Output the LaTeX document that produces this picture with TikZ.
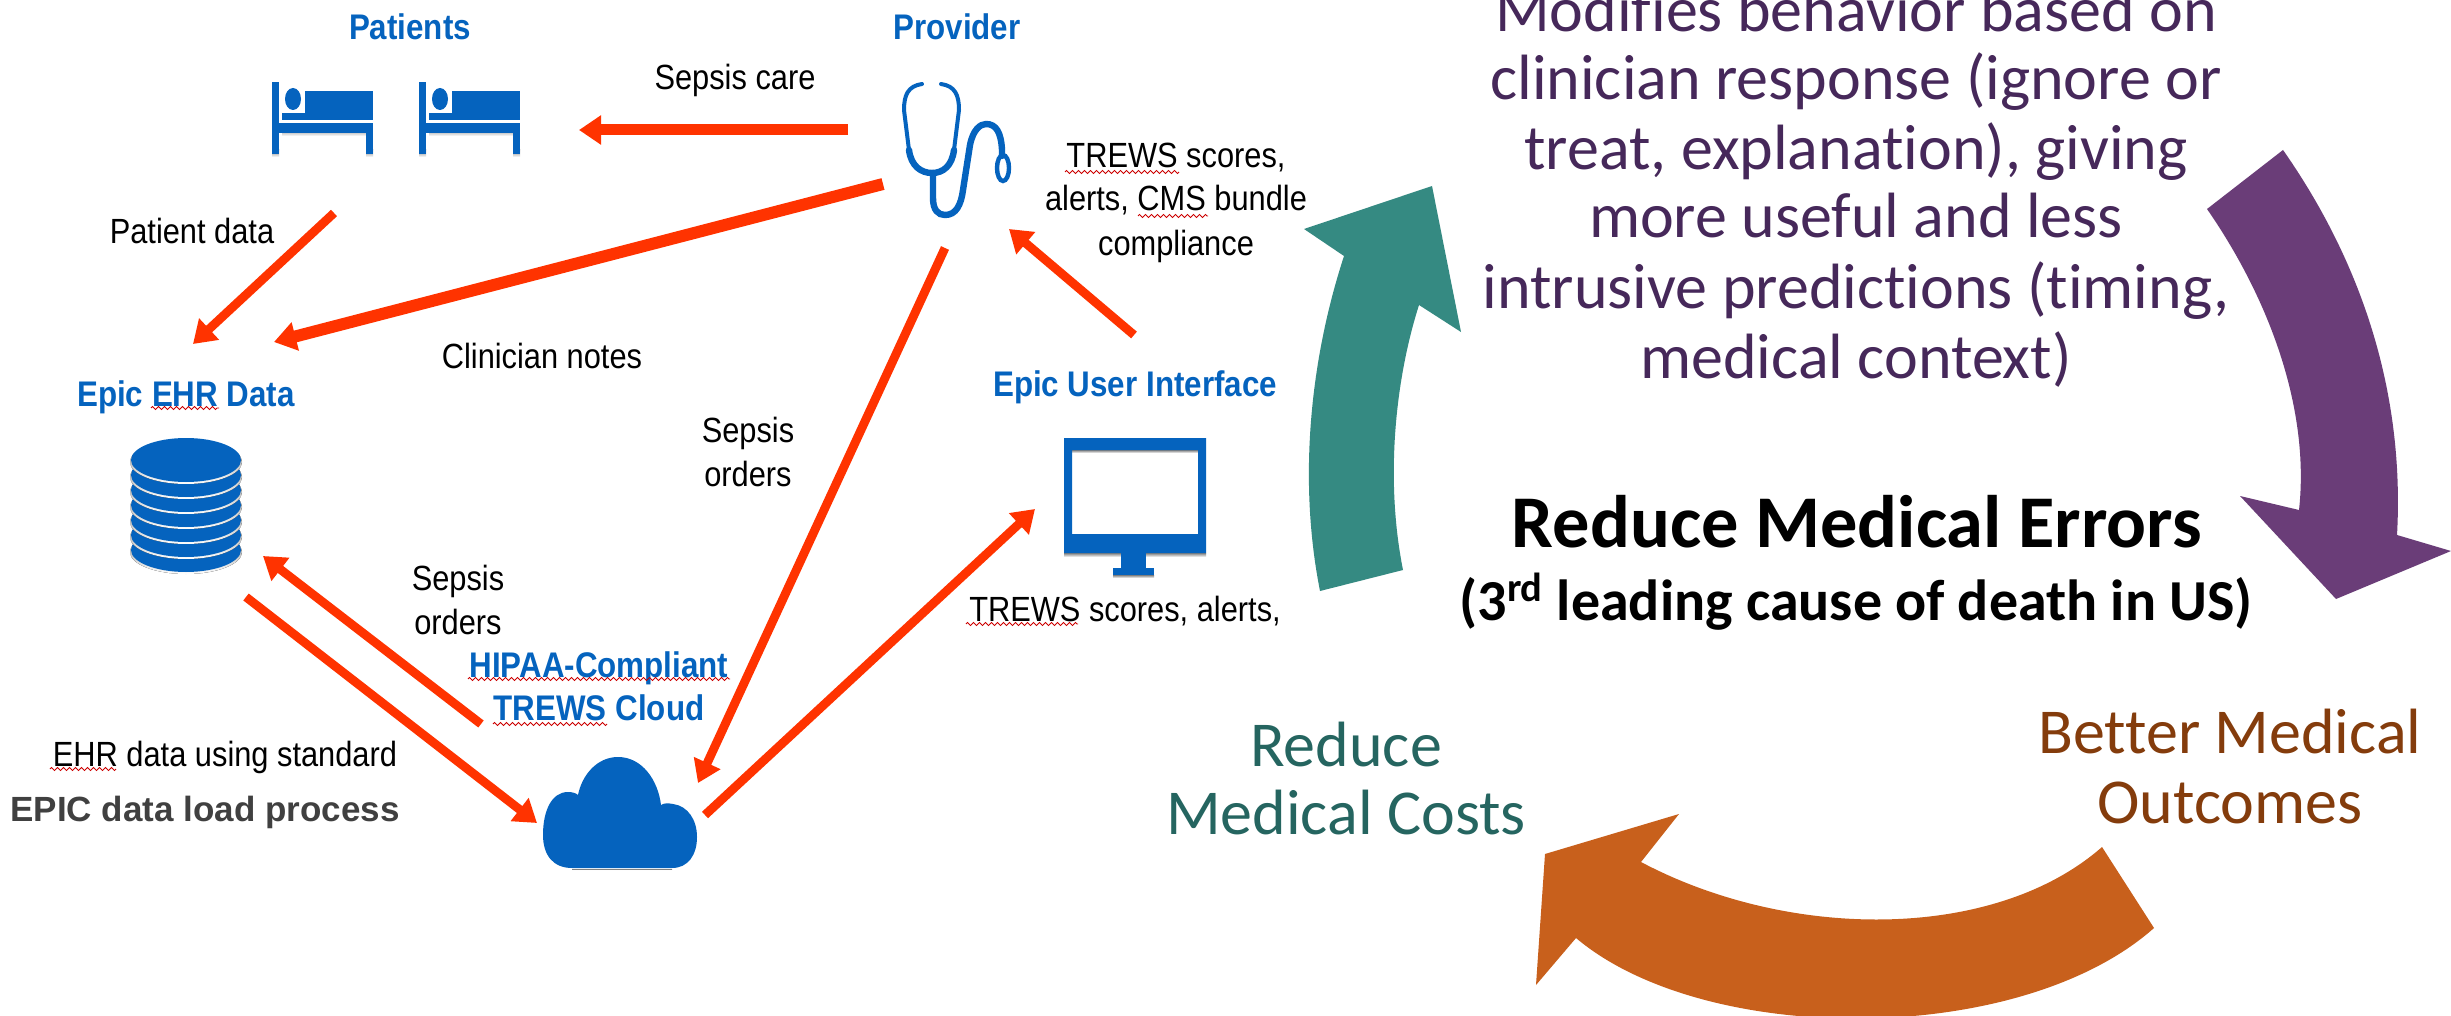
\documentclass[tikz,border=0pt]{standalone}
\usepackage{fontspec}
\usetikzlibrary{arrows.meta,decorations.pathmorphing}
\setmainfont[Ligatures=NoCommon]{Carlito}
\newfontfamily\lab[FakeStretch=0.88]{Liberation Sans}
\newfontfamily\labwide{Liberation Sans}
\definecolor{iconblue}{HTML}{0563BE}
\definecolor{arrowred}{HTML}{FF3300}
\definecolor{tealfill}{HTML}{358A82}
\definecolor{purplefill}{HTML}{6A3D78}
\definecolor{orangefill}{HTML}{C8601C}
\definecolor{purpletext}{HTML}{46285A}
\definecolor{tealtext}{HTML}{256560}
\definecolor{browntext}{HTML}{843C0C}
\definecolor{shade}{HTML}{808080}
\tikzset{
  x=0.5pt,y=-0.5pt,
  blk/.style={anchor=base,inner sep=0,font=\lab\fontsize{17.5}{20}\selectfont,text=black},
  blu/.style={anchor=base,inner sep=0,font=\lab\bfseries\fontsize{17.8}{20}\selectfont,text=iconblue},
  body/.style={anchor=base,inner sep=0,font=\fontsize{32}{38}\selectfont,text=purpletext},
  flow/.style={draw=arrowred,line width=#1,-{Triangle[width=14pt,length=11pt]}},
  squig/.style={draw=red!80!black,line width=0.4pt,decorate,decoration={zigzag,segment length=3pt,amplitude=0.8pt}},
  icon/.style={fill=iconblue,draw=none},
}
\newcommand{\bedicon}[1]{%
  \begin{scope}[xshift=#1*0.5pt]
    \fill[shade] (282,128) rectangle (366,136);
    \fill[shade] (272,150) rectangle (279,157);
    \fill[shade] (366,150) rectangle (373,157);
    \fill[icon] (272,82) rectangle (279,154);
    \fill[icon] (366,123) rectangle (373,154);
    \fill[icon] (279,123) rectangle (373,133);
    \fill[icon] (282,113) rectangle (373,120);
    \fill[icon] (305,91) rectangle (373,113);
    \fill[icon] (293,99) ellipse [x radius=8,y radius=11];
  \end{scope}}
\begin{document}
\begin{tikzpicture}
\clip (0,0) rectangle (2451,1016);
\fill[white] (0,0) rectangle (2451,1016);

% --- left: labels
\node[blu] (patients) at (410,40) {Patients};
\node[blu] (provider) at (957,40) {Provider};
\node[blk] (sepsiscare) at (735,90) {Sepsis care};
\node[blk] (trews1) at (1176,168) {TREWS scores,};
\node[blk] (trews2) at (1176,211) {alerts, CMS bundle};
\node[blk] (trews3) at (1176,256) {compliance};
\node[blk] (patientdata) at (192,244) {Patient data};
\node[blk] (notes) at (542,368) {Clinician notes};
\node[blu] (ehrlabel) at (186,406) {Epic EHR Data};
\node[blu] (uilabel) at (1135,396) {Epic User Interface};
\node[blk] (orders1a) at (748,442) {Sepsis};
\node[blk] (orders1b) at (748,486) {orders};
\node[blk] (orders2a) at (458,590) {Sepsis};
\node[blk] (orders2b) at (458,634) {orders};
\node[blu] (hipaa) at (599,677) {HIPAA-Compliant};
\node[blu] (cloudlabel) at (599,720) {TREWS Cloud};
\node[blk] (ehrload) at (225,766) {EHR data using standard};
\node[blk,font=\labwide\bfseries\fontsize{17.5}{20}\selectfont,text=black!75] (epicload) at (205,821) {EPIC data load process};
\node[blk] (uiscores) at (1125,621) {TREWS scores, alerts,};

% --- spell-check squiggles
\draw[squig] (1065,172) -- (1179,172);
\draw[squig] (1138,216) -- (1208,216);
\draw[squig] (151,408) -- (219,408);
\draw[squig] (468,679) -- (730,679);
\draw[squig] (493,724) -- (607,724);
\draw[squig] (50,769) -- (116,769);
\draw[squig] (966,624) -- (1078,624);

% --- icons
\bedicon{0}
\bedicon{147}

% stethoscope
\begin{scope}[draw=iconblue,line width=3.2pt,line cap=round,fill=none]
  \draw[line width=2pt] (922,84) .. controls (908,86) and (904,95) .. (904,110) -- (909,150);
  \draw[line width=2pt] (941,84) .. controls (955,86) and (959,95) .. (959,110) -- (954,150);
  \draw (909,150) .. controls (911,166) and (921,173) .. (932,173) .. controls (943,173) and (952,166) .. (954,150);
  \draw (933,173) -- (933,198) .. controls (933,210) and (938,215) .. (945,215) .. controls (956,215) and (961,205) .. (963,190)
     -- (970,145) .. controls (973,130) and (980,124) .. (986,124) .. controls (996,124) and (1001,132) .. (1002,150) -- (1002,156);
  \draw[line width=2.2pt] (1003,168) ellipse [x radius=6,y radius=13];
\end{scope}

% database
\foreach \i in {6,5,...,0} {
  \fill[shade] (186,462+15*\i) ellipse [x radius=56,y radius=22];
  \fill[icon] (186,460+15*\i) ellipse [x radius=55,y radius=22];
}

% monitor
\fill[shade] (1113,575) rectangle (1154,578);
\fill[shade] (1064,553) rectangle (1206,557);
\fill[shade] (1072,450) rectangle (1198,453);
\fill[icon,even odd rule] (1064,438) rectangle (1206,553) (1072,450) rectangle (1198,534);
\fill[icon] (1121,553) rectangle (1146,568);
\fill[icon] (1113,568) rectangle (1154,575);

% cloud
\fill[shade] (572,869) rectangle (672,870);
\fill[icon] (572,868) .. controls (553,868) and (543,855) .. (543,835)
  .. controls (543,810) and (552,792) .. (568,792)
  .. controls (572,792) and (576,793) .. (578,795)
  .. controls (582,775) and (597,757) .. (618,757)
  .. controls (642,757) and (658,780) .. (661,805)
  .. controls (664,803) and (668,803) .. (673,804)
  .. controls (688,806) and (697,820) .. (697,837)
  .. controls (697,855) and (688,868) .. (672,868) -- cycle;

% --- left: connector ends
\coordinate (provL) at (848,130);   \coordinate (bedsR) at (579,130);
\coordinate (provW) at (883,184);   \coordinate (ehrNE) at (274,342);
\coordinate (bedsS) at (334,213);   \coordinate (ehrN) at (193,344);
\coordinate (provS) at (945,248);   \coordinate (cloudNE) at (698,783);
\coordinate (uiN) at (1134,335);    \coordinate (provSE) at (1009,229);
\coordinate (cloudE) at (705,815);  \coordinate (uiW) at (1035,509);
\coordinate (cloudNW) at (481,724); \coordinate (dbSE) at (263,556);
\coordinate (dbS) at (246,597);     \coordinate (cloudW) at (537,823);

\draw[flow=5.5pt] (provL) -- (bedsR);
\draw[flow=6pt] (provW) -- (ehrNE);
\draw[flow=4.4pt] (bedsS) -- (ehrN);
\draw[flow=4.4pt] (provS) -- (cloudNE);
\draw[flow=4.4pt] (uiN) -- (provSE);
\draw[flow=4.4pt] (cloudE) -- (uiW);
\draw[flow=4.4pt] (cloudNW) -- (dbSE);
\draw[flow=4.4pt] (dbS) -- (cloudW);

% --- right: cycle arrows
\fill[tealfill] (1320,591) .. controls (1298,480) and (1310,360) .. (1344,256)
  -- (1304,229) -- (1432,186) -- (1461,332) -- (1419,305)
  .. controls (1395,380) and (1385,480) .. (1403,570) -- cycle;
\fill[purplefill] (2283,150) .. controls (2360,260) and (2405,390) .. (2397,535)
  -- (2451,551) -- (2336,599) -- (2240,496) -- (2299,510)
  .. controls (2310,410) and (2270,300) .. (2207,209) -- cycle;
\fill[orangefill] (2154,928) .. controls (2020,1047) and (1705,1047) .. (1576,938)
  -- (1536,985) -- (1545,854) -- (1679,814) -- (1641,862)
  .. controls (1790,941) and (1995,941) .. (2102,847) -- cycle;

% --- right: text
\node[body] (m1) at (1856,32) {Modifies behavior based on};
\node[body] (m2) at (1856,100) {clinician response (ignore or};
\node[body] (m3) at (1856,170) {treat, explanation), giving};
\node[body] (m4) at (1856,238) {more useful and less};
\node[body] (m5) at (1856,308) {intrusive predictions (timing,};
\node[body] (m6) at (1856,378) {medical context)};
\node[body,text=black,font=\bfseries\fontsize{37.2}{44}\selectfont] (err) at (1857,547) {Reduce Medical Errors};
\node[body,text=black,font=\bfseries\fontsize{29}{34}\selectfont] (err2) at (1856,620) {(3\textsuperscript{rd} leading cause of death in US)};
\node[body,text=tealtext] (cost1) at (1346,766) {Reduce};
\node[body,text=tealtext] (cost2) at (1346,834) {Medical Costs};
\node[body,text=browntext] (out1) at (2230,753) {Better Medical};
\node[body,text=browntext] (out2) at (2230,823) {Outcomes};
\end{tikzpicture}
\end{document}
